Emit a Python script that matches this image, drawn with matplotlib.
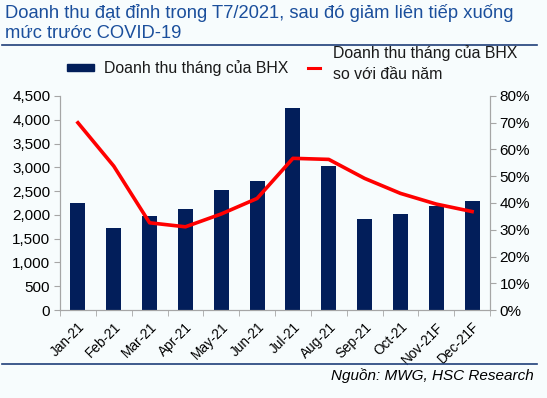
import matplotlib.pyplot as plt
import numpy as np
from matplotlib.lines import Line2D
from matplotlib.patches import Rectangle

plt.rcParams['font.family'] = ['Liberation Sans', 'DejaVu Sans']

# Dữ liệu
months = ['Jan-21', 'Feb-21', 'Mar-21', 'Apr-21', 'May-21', 'Jun-21',
          'Jul-21', 'Aug-21', 'Sep-21', 'Oct-21', 'Nov-21F', 'Dec-21F']
revenue = [2240, 1720, 1970, 2120, 2530, 2720, 4240, 3030, 1910, 2020, 2180, 2300]
vs_start = [70.0, 53.8, 32.6, 31.1, 35.9, 41.7, 56.7, 56.3, 49.2, 43.6, 39.6, 36.8]

bg = '#F7FCFD'
navy = '#021E5A'
title_blue = '#1B4F9C'
grey = '#A6A6A6'

fig = plt.figure(figsize=(5.47, 3.98), dpi=100, facecolor=bg)

# tiêu đề
fig.text(0.009, 0.968, 'Doanh thu đạt đỉnh trong T7/2021, sau đó giảm liên tiếp xuống',
         fontsize=13.2, color=title_blue, va='center', ha='left')
fig.text(0.009, 0.915, 'mức trước COVID-19',
         fontsize=13.2, color=title_blue, va='center', ha='left')
fig.add_artist(Line2D([0.004, 0.982], [0.888, 0.888], color='#1F3F7A', lw=1.2))
fig.add_artist(Line2D([0.004, 0.982], [0.085, 0.085], color='#1F3F7A', lw=1.2))
fig.text(0.975, 0.056, 'Nguồn: MWG, HSC Research', fontsize=11, style='italic',
         color='black', ha='right', va='center')

# chú thích
fig.add_artist(Rectangle((0.1225, 0.821), 0.049, 0.017, color=navy))
fig.text(0.190, 0.829, 'Doanh thu tháng của BHX', fontsize=11.4, va='center', color='#1a1a1a')
fig.add_artist(Line2D([0.563, 0.585], [0.829, 0.829], color='red', lw=2.2))
fig.text(0.609, 0.866, 'Doanh thu tháng của BHX', fontsize=11.4, va='center', color='#1a1a1a')
fig.text(0.609, 0.814, 'so với đầu năm', fontsize=11.4, va='center', color='#1a1a1a')

ax = fig.add_axes([0.1097, 0.2211, 0.7861, 0.5377])
ax.set_facecolor(bg)
x = np.arange(len(months))
ax.bar(x, revenue, width=0.42, color=navy, zorder=2)
ax.set_xlim(-0.5, len(months) - 0.5)
ax.set_ylim(0, 4500)
ax.set_yticks(np.arange(0, 4501, 500))
ax.set_yticklabels([f'{v:,}' for v in range(0, 4501, 500)])

ax.set_xticks(x)
ax.set_xticklabels(months, rotation=45, ha='right', rotation_mode='anchor', fontsize=9.8)
ax.set_xticks(np.arange(-0.5, len(months), 1), minor=True)
ax.tick_params(axis='x', which='major', length=0, pad=7)
ax.tick_params(axis='x', which='minor', length=4, color=grey, direction='out')
ax.tick_params(axis='y', labelsize=11, length=4, color=grey, pad=3)

ax2 = ax.twinx()
ax2.plot(x, vs_start, color='red', lw=2.6, zorder=3)
ax2.set_ylim(0, 80)
ax2.set_yticks(np.arange(0, 81, 10))
ax2.set_yticklabels([f'{v}%' for v in range(0, 81, 10)])
ax2.tick_params(axis='y', labelsize=11, length=4, color=grey, pad=3)

for a in (ax, ax2):
    a.spines['top'].set_visible(False)
    for s in ('left', 'right', 'bottom'):
        a.spines[s].set_color(grey)
        a.spines[s].set_linewidth(0.8)

fig.savefig('out.png', dpi=100, facecolor=bg)
